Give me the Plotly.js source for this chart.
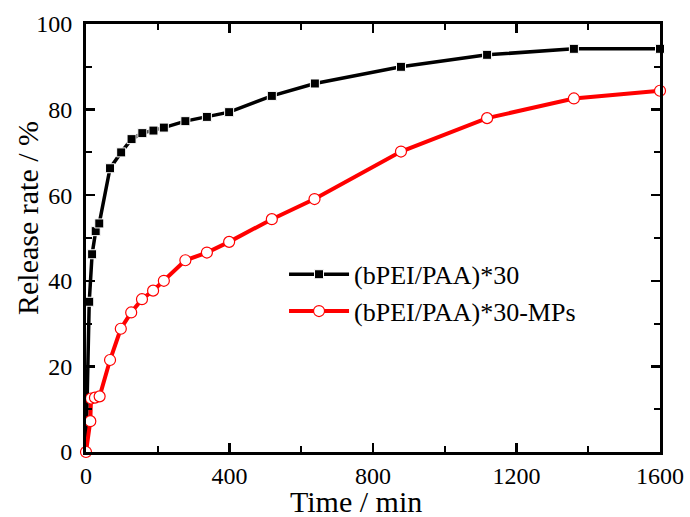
<!DOCTYPE html>
<html>
<head>
<meta charset="utf-8">
<script src="https://cdn.plot.ly/plotly-3.0.1.min.js"></script>
<style>
html,body{margin:0;padding:0;background:#fff;}
#chart{width:690px;height:517px;}
</style>
</head>
<body>
<div id="chart"></div>
<script>
// Data
const seriesNames = ["(bPEI/PAA)*30", "(bPEI/PAA)*30-MPs"];
const timeA = [0, 9, 17, 27, 37, 67, 98, 127, 157, 188, 217, 277, 337, 399, 518, 638, 878, 1118, 1360, 1600];
const releaseA = [0, 35.1, 46.2, 51.6, 53.4, 66.3, 70.0, 73.1, 74.5, 75.1, 75.8, 77.3, 78.3, 79.4, 83.2, 86.1, 90.0, 92.8, 94.2, 94.2];
const timeB = [0, 12, 14, 25, 38, 67, 97, 126, 156, 187, 217, 277, 337, 399, 518, 637, 878, 1118, 1360, 1600];
const releaseB = [0, 7.2, 12.5, 12.7, 13.0, 21.5, 28.8, 32.6, 35.7, 37.7, 40.0, 44.8, 46.6, 49.1, 54.4, 59.1, 70.2, 78.0, 82.6, 84.4];
const xTickVals = [0, 400, 800, 1200, 1600];
const yTickVals = [0, 20, 40, 60, 80, 100];
const xTitle = "Time / min";
const yTitle = "Release rate / %";

const FONT = "Liberation Serif, Times New Roman, serif";

const traces = [
  {
    x: timeA, y: releaseA, name: seriesNames[0],
    type: "scatter", mode: "lines+markers",
    line: {color: "#000000", width: 3.5},
    marker: {symbol: "square", size: 9, color: "#000000", line: {color: "#ffffff", width: 1}},
    cliponaxis: false
  },
  {
    x: timeB, y: releaseB, name: seriesNames[1],
    type: "scatter", mode: "lines+markers",
    line: {color: "#ff0000", width: 4},
    marker: {symbol: "circle", size: 11, color: "#ffffff", line: {color: "#ff0000", width: 1.2}},
    cliponaxis: false
  }
];

const axisCommon = {
  showgrid: false, zeroline: false,
  showline: true, linecolor: "#000", linewidth: 3,
  mirror: "allticks",
  ticks: "inside", ticklen: 9, tickwidth: 2.5, tickcolor: "#000",
  tickfont: {family: FONT, size: 24, color: "#000"},
};

const layout = {
  width: 690, height: 517,
  margin: {l: 86, r: 30, t: 24, b: 65, pad: 0},
  paper_bgcolor: "#fff", plot_bgcolor: "#fff",
  font: {family: FONT, color: "#000"},
  showlegend: true,
  legend: {
    x: 0.345, y: 0.47, xanchor: "left", yanchor: "top",
    bgcolor: "rgba(0,0,0,0)", borderwidth: 0,
    font: {family: FONT, size: 26, color: "#000"},
    itemwidth: 60, tracegroupgap: 0
  },
  xaxis: Object.assign({}, axisCommon, {
    range: [0, 1600], tickvals: xTickVals, ticktext: xTickVals.map(String),
    minor: {dtick: 200, tick0: 0, ticks: "inside", ticklen: 6, tickwidth: 2, tickcolor: "#000"}
  }),
  yaxis: Object.assign({}, axisCommon, {
    range: [0, 100], tickvals: yTickVals, ticktext: yTickVals.map(String),
    minor: {dtick: 10, tick0: 0, ticks: "inside", ticklen: 6, tickwidth: 2, tickcolor: "#000"},
    ticklabelstandoff: 6
  }),
  annotations: [
    {text: xTitle, xref: "paper", yref: "paper", x: 0.4704, y: -0.116,
     xanchor: "center", yanchor: "middle", showarrow: false,
     font: {family: FONT, size: 30, color: "#000"}},
    {text: yTitle, xref: "paper", yref: "paper", x: -0.1028, y: 0.5467,
     xanchor: "center", yanchor: "middle", textangle: -90, showarrow: false,
     font: {family: FONT, size: 30, color: "#000"}}
  ]
};

Plotly.newPlot("chart", traces, layout, {displayModeBar: false, staticPlot: true});
</script>
</body>
</html>
